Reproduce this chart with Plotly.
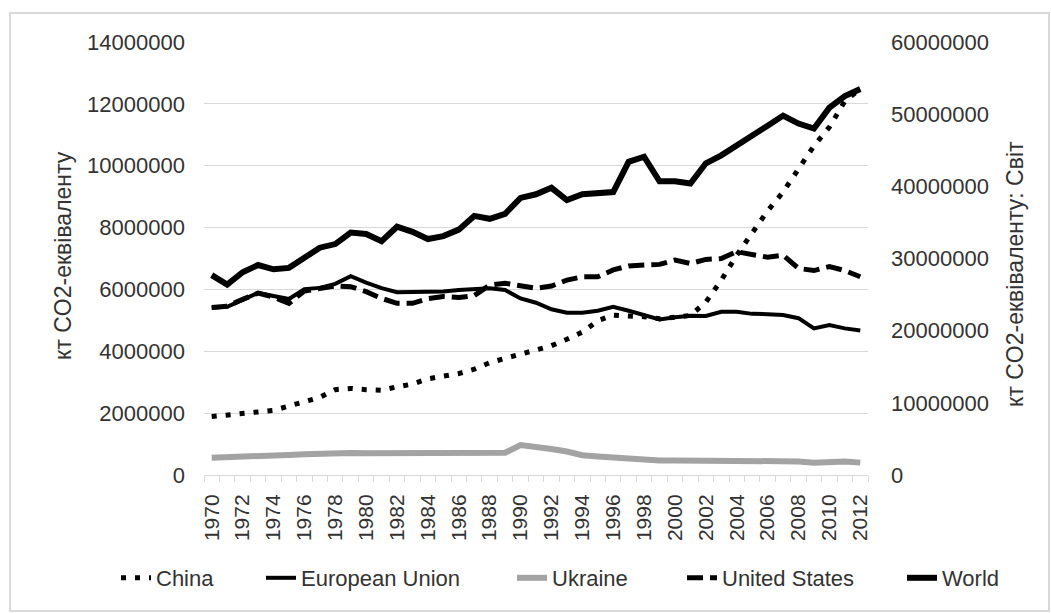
import plotly.graph_objects as go

years = [1970, 1971, 1972, 1973, 1974, 1975, 1976, 1977, 1978, 1979,
         1980, 1981, 1982, 1983, 1984, 1985, 1986, 1987, 1988, 1989,
         1990, 1991, 1992, 1993, 1994, 1995, 1996, 1997, 1998, 1999,
         2000, 2001, 2002, 2003, 2004, 2005, 2006, 2007, 2008, 2009,
         2010, 2011, 2012]
year_labels = [1970, 1972, 1974, 1976, 1978, 1980, 1982, 1984, 1986, 1988, 1990,
               1992, 1994, 1996, 1998, 2000, 2002, 2004, 2006, 2008, 2010, 2012]

china = [1890000, 1930000, 1990000, 2040000, 2090000, 2230000, 2350000, 2510000, 2760000, 2800000,
         2760000, 2740000, 2850000, 2940000, 3110000, 3180000, 3280000, 3420000, 3630000, 3770000,
         3900000, 4030000, 4180000, 4390000, 4620000, 4990000, 5170000, 5140000, 5120000, 5050000,
         5100000, 5160000, 5590000, 6300000, 7110000, 7860000, 8540000, 9150000, 9930000, 10640000,
         11250000, 12090000, 12480000]
eu = [5400000, 5440000, 5660000, 5890000, 5790000, 5690000, 6010000, 6050000, 6180000, 6430000,
      6220000, 6040000, 5910000, 5910000, 5910000, 5930000, 5980000, 6000000, 6040000, 5980000,
      5710000, 5570000, 5360000, 5250000, 5250000, 5310000, 5440000, 5310000, 5170000, 5030000,
      5100000, 5150000, 5140000, 5280000, 5280000, 5210000, 5200000, 5170000, 5070000, 4740000,
      4850000, 4740000, 4670000]
ukraine = [560000, 570000, 590000, 610000, 630000, 650000, 670000, 690000, 700000, 710000,
           700000, 700000, 700000, 710000, 720000, 720000, 720000, 720000, 720000, 720000,
           970000, 920000, 840000, 760000, 640000, 600000, 560000, 510000, 480000, 470000,
           470000, 470000, 470000, 470000, 470000, 440000, 450000, 450000, 440000, 400000,
           410000, 440000, 400000]
usa = [5420000, 5460000, 5680000, 5880000, 5750000, 5550000, 5950000, 6030000, 6110000, 6090000,
       5930000, 5710000, 5550000, 5550000, 5700000, 5770000, 5740000, 5800000, 6140000, 6200000,
       6140000, 6040000, 6110000, 6300000, 6410000, 6410000, 6630000, 6760000, 6790000, 6810000,
       6950000, 6840000, 6970000, 7000000, 7220000, 7110000, 7040000, 7110000, 6680000, 6610000,
       6740000, 6610000, 6410000]
world = [27700000, 26400000, 28100000, 29100000, 28500000, 28700000, 30100000, 31500000, 32000000, 33600000,
         33400000, 32400000, 34400000, 33700000, 32700000, 33100000, 34000000, 35900000, 35500000, 36200000,
         38400000, 38900000, 39800000, 38100000, 38900000, 39100000, 39200000, 43400000, 44100000, 40700000,
         40700000, 40400000, 43200000, 44300000, 45600000, 47000000, 48400000, 49800000, 48700000, 48000000,
         50900000, 52500000, 53500000]

series_names = ["China", "European Union", "Ukraine", "United States", "World"]

FONT = "Liberation Sans"
TXT = "#333333"
GRID = "#d9d9d9"

fig = go.Figure()
fig.add_trace(go.Scatter(x=years, y=china, name=series_names[0], mode="lines", showlegend=True,
                         line=dict(color="black", width=5, dash="5px,9px"), legend="legend"))
fig.add_trace(go.Scatter(x=years, y=eu, name=series_names[1], mode="lines", showlegend=True,
                         line=dict(color="black", width=4), legend="legend2"))
fig.add_trace(go.Scatter(x=years, y=ukraine, name=series_names[2], mode="lines", showlegend=True,
                         line=dict(color="#a3a3a3", width=6), legend="legend3"))
fig.add_trace(go.Scatter(x=years, y=usa, name=series_names[3], mode="lines", showlegend=True,
                         line=dict(color="black", width=5, dash="16px,7px"), legend="legend4"))
fig.add_trace(go.Scatter(x=years, y=world, name=series_names[4], mode="lines", yaxis="y2",
                         showlegend=True,
                         line=dict(color="black", width=6), legend="legend5"))

L, R, T, B = 204, 183, 42, 138
pw, ph = 1051 - L - R, 613 - T - B


def px(xp):
    return (xp - L) / pw


def py(yp):
    return (613 - B - yp) / ph


leg_y = py(578)
leg_common = dict(orientation="h", xanchor="left", yanchor="middle", y=leg_y,
                  font=dict(family=FONT, size=22, color=TXT), bgcolor="rgba(0,0,0,0)",
                  itemwidth=30, visible=True)

fig.update_layout(
    width=1051, height=613,
    showlegend=True,
    margin=dict(l=L, r=R, t=T, b=B),
    paper_bgcolor="white", plot_bgcolor="white",
    font=dict(family=FONT, size=22, color=TXT),
    xaxis=dict(range=[1969.5, 2012.5], tickmode="array", tickvals=year_labels,
               ticktext=[str(v) for v in year_labels], tickangle=-90,
               ticks="", showgrid=False, showline=True, linecolor=GRID, linewidth=1,
               zeroline=False, ticklabelstandoff=10,
               tickfont=dict(family=FONT, size=21, color=TXT),
               minor=dict(tick0=1969.5, dtick=1, ticks="outside", ticklen=6,
                          tickcolor=GRID, tickwidth=1, showgrid=False)),
    yaxis=dict(range=[0, 14000000], dtick=2000000, tickformat="d", showgrid=True,
               gridcolor=GRID, gridwidth=1, zeroline=False, showline=False, ticks="",
               ticklabelstandoff=18, tickfont=dict(family=FONT, size=22, color=TXT)),
    yaxis2=dict(range=[0, 60000000], dtick=10000000, tickformat="d", overlaying="y",
                side="right", showgrid=False, zeroline=False, showline=False, ticks="",
                ticklabelstandoff=22, tickfont=dict(family=FONT, size=22, color=TXT)),
    legend=dict(x=px(116), **leg_common),
    legend2=dict(x=px(261), **leg_common),
    legend3=dict(x=px(512), **leg_common),
    legend4=dict(x=px(682), **leg_common),
    legend5=dict(x=px(902), **leg_common),
    annotations=[
        dict(text="кт CO2-еквіваленту", xref="paper", yref="paper", x=px(63), y=py(256),
             textangle=-90, showarrow=False, xanchor="center", yanchor="middle",
             font=dict(family=FONT, size=23, color=TXT)),
        dict(text="кт CO2-еквіваленту: Світ", xref="paper", yref="paper", x=px(1015), y=py(274),
             textangle=-90, showarrow=False, xanchor="center", yanchor="middle",
             font=dict(family=FONT, size=23, color=TXT)),
    ],
    shapes=[dict(type="rect", xref="paper", yref="paper", x0=px(10), x1=px(1049),
                 y0=py(611), y1=py(13), line=dict(color=GRID, width=2), layer="below")],
)

fig.write_html("out.html", config={"displayModeBar": False},
               post_script="document.body.style.margin='0';")
